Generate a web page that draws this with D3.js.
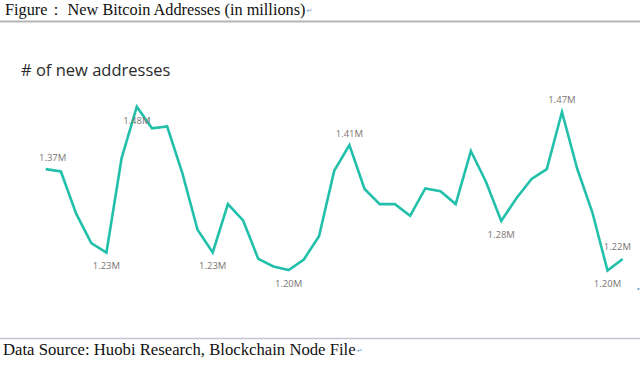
<!DOCTYPE html>
<html>
<head>
<meta charset="utf-8">
<script src="https://cdn.jsdelivr.net/npm/d3@7"></script>
<style>
  html, body { margin: 0; padding: 0; background: #fff; }
  svg { display: block; }
</style>
</head>
<body>
<div id="chart"></div>
<script>
// new addresses per period, in millions
const values = [1.373, 1.369, 1.297, 1.246, 1.230, 1.392, 1.480, 1.443, 1.446, 1.366,
                1.269, 1.230, 1.313, 1.285, 1.219, 1.206, 1.200, 1.218, 1.258, 1.370,
                1.414, 1.339, 1.313, 1.313, 1.293, 1.340, 1.335, 1.313, 1.404, 1.351,
                1.284, 1.323, 1.356, 1.373, 1.471, 1.374, 1.299, 1.199, 1.219];
// which points carry a data label
const labelIdx = [0, 4, 6, 11, 16, 20, 30, 34, 37, 38];
const labelsBelow = [4, 6, 11, 16, 30, 37];

const titleText = "Figure\uFF1A  New Bitcoin Addresses (in millions)";
const subTitle = "# of new addresses";
const sourceText = "Data Source: Huobi Research, Blockchain Node File";

const width = 640, height = 366;
const lineColor = "#22c0ab";

const svg = d3.select("#chart").append("svg")
    .attr("width", width)
    .attr("height", height);

// word-doc caption on top
const title = svg.append("text")
    .attr("x", 5)
    .attr("y", 15)
    .style("font-family", "'Liberation Serif', 'Times New Roman', serif")
    .style("font-size", "16.3px")
    .style("fill", "#111")
    .text(titleText);

const mark = (x, y) => svg.append("text")
    .attr("x", x).attr("y", y)
    .style("font-family", "'DejaVu Sans', sans-serif")
    .style("font-size", "7px")
    .style("fill", "#6b9ad6")
    .text("\u21B5");

mark(5 + title.node().getComputedTextLength() + 1, 13);

svg.append("line")
    .attr("x1", 0).attr("x2", width)
    .attr("y1", 21.5).attr("y2", 21.5)
    .attr("stroke", "#b5b5b5")
    .attr("stroke-width", 2);

svg.append("text")
    .attr("x", 21)
    .attr("y", 76)
    .style("font-family", "'Open Sans', sans-serif")
    .style("font-size", "16.5px")
    .style("fill", "#2b2b2b")
    .text(subTitle);

// scales
const x = d3.scalePoint()
    .domain(d3.range(values.length))
    .range([45.7, 622.7]);

const y = d3.scaleLinear()
    .domain([1.20, 1.48])
    .range([270, 106.7]);

const line = d3.line()
    .x((d, i) => x(i))
    .y(d => y(d));

svg.append("path")
    .datum(values)
    .attr("d", line)
    .attr("fill", "none")
    .attr("stroke", lineColor)
    .attr("stroke-width", 2.6)
    .attr("stroke-linejoin", "miter");

// data labels, kept inside the plot area
const plotLeft = 39, plotRight = 631;
svg.append("g").selectAll("text")
    .data(labelIdx)
    .enter()
    .append("text")
    .style("font-family", "'Open Sans', sans-serif")
    .style("font-size", "9.5px")
    .style("fill", "#7a7674")
    .attr("text-anchor", "middle")
    .attr("y", function (i) {
        const below = labelsBelow.includes(i);
        return y(values[i]) + (below ? 13.5 : -12) + 3.4;
    })
    .text(i => values[i].toFixed(2) + "M")
    .attr("x", function (i) {
        const w = this.getComputedTextLength();
        let cx = x(i);
        if (cx - w / 2 < plotLeft) cx = plotLeft + w / 2;
        if (cx + w / 2 > plotRight) cx = plotRight - w / 2;
        return cx;
    });

// stray paragraph-mark dot at the right edge
svg.append("circle")
    .attr("cx", 638.5).attr("cy", 289)
    .attr("r", 1.1)
    .attr("fill", "#6b9ad6");

// bottom rule and source
svg.append("line")
    .attr("x1", 0).attr("x2", width)
    .attr("y1", 338.5).attr("y2", 338.5)
    .attr("stroke", "#c3c3d6")
    .attr("stroke-width", 1.5);

const source = svg.append("text")
    .attr("x", 3)
    .attr("y", 355)
    .style("font-family", "'Liberation Serif', 'Times New Roman', serif")
    .style("font-size", "16.7px")
    .style("fill", "#111")
    .text(sourceText);

mark(3 + source.node().getComputedTextLength() + 1, 353);
</script>
</body>
</html>
